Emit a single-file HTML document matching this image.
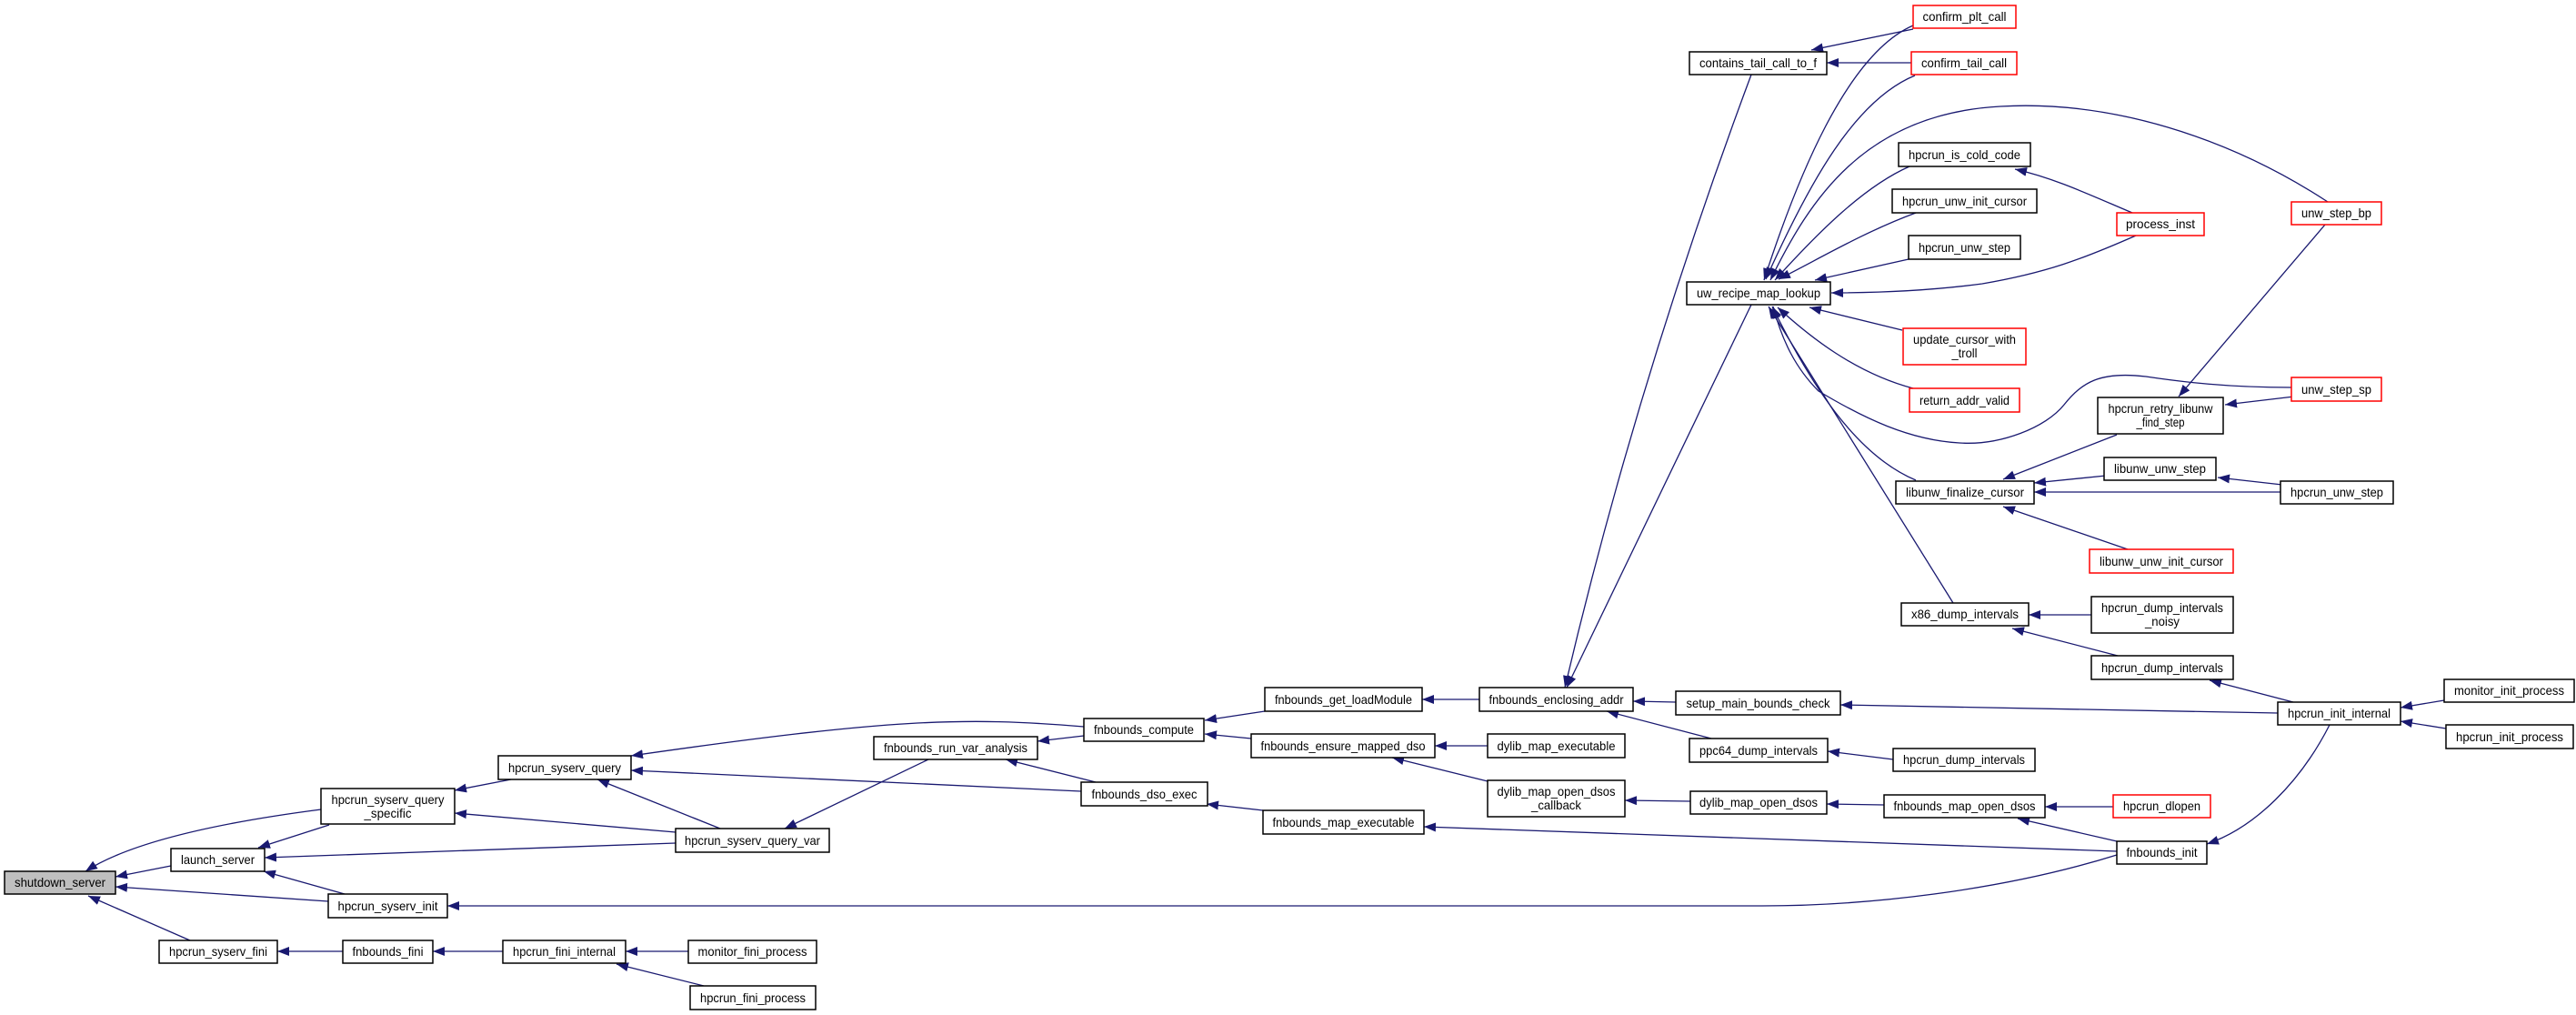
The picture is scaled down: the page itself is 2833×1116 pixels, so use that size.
<!DOCTYPE html>
<html><head><meta charset="utf-8"><style>
html,body{margin:0;padding:0;background:#fff;}
svg{display:block;}
text{font-family:"Liberation Sans",sans-serif;font-size:14px;fill:#000;text-anchor:middle;}
.e{fill:none;stroke:#191970;stroke-width:1.3;marker-end:url(#a);}
.n{fill:#fff;stroke:#000;stroke-width:1.5;}
.r{fill:#fff;stroke:#ff0000;stroke-width:1.5;}
</style></head><body>
<svg width="2833" height="1116" viewBox="0 0 2833 1116" xmlns="http://www.w3.org/2000/svg">
<defs><marker id="a" markerUnits="userSpaceOnUse" markerWidth="14" markerHeight="11" refX="13" refY="5" orient="auto"><path d="M0,0 L13,5 L0,10 z" fill="#191970"/></marker></defs>

<!-- edges -->
<path class="e" d="M353,890 Q160,915 94,958"/>
<path class="e" d="M188,952 L127,964"/>
<path class="e" d="M361,991 L127,975"/>
<path class="e" d="M209,1034 L97,985"/>
<path class="e" d="M362,907 L284,932"/>
<path class="e" d="M743,927 L291,943"/>
<path class="e" d="M379,983 L290,958"/>
<path class="e" d="M562,857 L500,869"/>
<path class="e" d="M743,915 L500,894"/>
<path class="e" d="M792,911 L657,857"/>
<path class="e" d="M1192,799 C1060,788 980,790 694,831"/>
<path class="e" d="M1189,870 L694,847"/>
<path class="e" d="M1021,835 L863,911"/>
<path class="e" d="M1192,809 L1141,815"/>
<path class="e" d="M1205,860 L1106,835"/>
<path class="e" d="M2328,940 C2200,980 2050,996 1938,996 L492,996"/>
<path class="e" d="M1391,782 L1325,792"/>
<path class="e" d="M1376,812 L1325,807"/>
<path class="e" d="M1389,891 L1327,884"/>
<path class="e" d="M1627,769 L1564,769"/>
<path class="e" d="M1843,772 L1796,771"/>
<path class="e" d="M1882,812 L1767,782"/>
<path class="e" d="M1926,82 Q1800,420 1721,756"/>
<path class="e" d="M1926,335 L1723,756"/>
<path class="e" d="M1636,820 L1578,820"/>
<path class="e" d="M1636,859 L1531,833"/>
<path class="e" d="M1859,881 L1787,880"/>
<path class="e" d="M2072,885 L2009,884"/>
<path class="e" d="M2328,936 L1566,909"/>
<path class="e" d="M2328,925 L2219,900"/>
<path class="e" d="M2324,887 L2249,887"/>
<path class="e" d="M2562,797 C2530,860 2480,910 2427,928"/>
<path class="e" d="M2505,784 L2024,775"/>
<path class="e" d="M2522,772 L2430,748"/>
<path class="e" d="M2688,770 L2640,778"/>
<path class="e" d="M2690,801 L2640,793"/>
<path class="e" d="M2300,676 L2231,676"/>
<path class="e" d="M2329,721 L2213,691"/>
<path class="e" d="M2082,835 L2010,826"/>
<path class="e" d="M2328,478 L2203,527"/>
<path class="e" d="M2316,523 L2237,531"/>
<path class="e" d="M2508,541 L2237,541"/>
<path class="e" d="M2340,604 L2203,557"/>
<path class="e" d="M2510,533 L2439,525"/>
<path class="e" d="M2523,436 L2447,445"/>
<path class="e" d="M2557,247 L2396,436"/>
<path class="e" d="M2520,426 C2450,426 2400,420 2360,414 C2310,408 2290,420 2270,445 C2250,470 2200,490 2155,487 C2100,484 2050,460 2000,430 C1975,405 1960,375 1950,337"/>
<path class="e" d="M2148,663 L1945,337"/>
<path class="e" d="M2107,528 C2040,500 1990,420 1949,337"/>
<path class="e" d="M2104,427 C2040,410 1990,370 1955,338"/>
<path class="e" d="M2092,363 L1990,338"/>
<path class="e" d="M2349,259 C2290,285 2250,300 2180,312 C2120,320 2060,322 2014,322"/>
<path class="e" d="M2099,285 L1996,308"/>
<path class="e" d="M2107,234 C2050,255 2000,285 1956,307"/>
<path class="e" d="M2100,183 C2050,205 2000,255 1952,308"/>
<path class="e" d="M2560,222 C2450,150 2320,110 2200,117 C2050,125 1990,220 1947,308"/>
<path class="e" d="M2106,83 C2040,110 1990,200 1942,307"/>
<path class="e" d="M2104,28 C2030,60 1975,200 1940,308"/>
<path class="e" d="M2104,32 L1992,55"/>
<path class="e" d="M2102,69 L2009,69"/>
<path class="e" d="M2345,234 C2300,215 2260,196 2216,186"/>
<path class="e" d="M377,1046 L305,1046"/>
<path class="e" d="M553,1046 L476,1046"/>
<path class="e" d="M757,1046 L688,1046"/>
<path class="e" d="M774,1084 L678,1060"/>

<!-- nodes -->
<rect x="5" y="958" width="122" height="25" fill="#bfbfbf" stroke="#000" stroke-width="1.5"/><text x="66" y="975" textLength="100" lengthAdjust="spacingAndGlyphs">shutdown_server</text>
<rect class="n" x="188" y="933" width="103" height="25"/><text x="239.5" y="950" textLength="81" lengthAdjust="spacingAndGlyphs">launch_server</text>
<rect class="n" x="353" y="867" width="147" height="39"/><text x="426.5" y="884" textLength="124" lengthAdjust="spacingAndGlyphs">hpcrun_syserv_query</text><text x="426.5" y="899" textLength="52" lengthAdjust="spacingAndGlyphs">_specific</text>
<rect class="n" x="361" y="983" width="131" height="26"/><text x="426.5" y="1001" textLength="110" lengthAdjust="spacingAndGlyphs">hpcrun_syserv_init</text>
<rect class="n" x="175" y="1034" width="130" height="25"/><text x="240" y="1051" textLength="108" lengthAdjust="spacingAndGlyphs">hpcrun_syserv_fini</text>
<rect class="n" x="548" y="831" width="146" height="26"/><text x="621" y="849" textLength="124" lengthAdjust="spacingAndGlyphs">hpcrun_syserv_query</text>
<rect class="n" x="743" y="911" width="169" height="26"/><text x="827.5" y="929" textLength="149" lengthAdjust="spacingAndGlyphs">hpcrun_syserv_query_var</text>
<rect class="n" x="377" y="1034" width="99" height="25"/><text x="426.5" y="1051" textLength="78" lengthAdjust="spacingAndGlyphs">fnbounds_fini</text>
<rect class="n" x="553" y="1034" width="135" height="25"/><text x="620.5" y="1051" textLength="113" lengthAdjust="spacingAndGlyphs">hpcrun_fini_internal</text>
<rect class="n" x="757" y="1034" width="141" height="25"/><text x="827.5" y="1051" textLength="120" lengthAdjust="spacingAndGlyphs">monitor_fini_process</text>
<rect class="n" x="759" y="1084" width="138" height="26"/><text x="828" y="1102" textLength="116" lengthAdjust="spacingAndGlyphs">hpcrun_fini_process</text>
<rect class="n" x="961" y="810" width="180" height="25"/><text x="1051" y="827" textLength="158" lengthAdjust="spacingAndGlyphs">fnbounds_run_var_analysis</text>
<rect class="n" x="1192" y="790" width="132" height="25"/><text x="1258" y="807" textLength="110" lengthAdjust="spacingAndGlyphs">fnbounds_compute</text>
<rect class="n" x="1189" y="860" width="139" height="26"/><text x="1258.5" y="878" textLength="116" lengthAdjust="spacingAndGlyphs">fnbounds_dso_exec</text>
<rect class="n" x="1391" y="756" width="173" height="26"/><text x="1477.5" y="774" textLength="151" lengthAdjust="spacingAndGlyphs">fnbounds_get_loadModule</text>
<rect class="n" x="1376" y="807" width="202" height="26"/><text x="1477" y="825" textLength="181" lengthAdjust="spacingAndGlyphs">fnbounds_ensure_mapped_dso</text>
<rect class="n" x="1389" y="891" width="177" height="26"/><text x="1477.5" y="909" textLength="156" lengthAdjust="spacingAndGlyphs">fnbounds_map_executable</text>
<rect class="n" x="1627" y="756" width="169" height="26"/><text x="1711.5" y="774" textLength="148" lengthAdjust="spacingAndGlyphs">fnbounds_enclosing_addr</text>
<rect class="n" x="1636" y="807" width="151" height="26"/><text x="1711.5" y="825" textLength="130" lengthAdjust="spacingAndGlyphs">dylib_map_executable</text>
<rect class="n" x="1636" y="858" width="151" height="40"/><text x="1711.5" y="875" textLength="130" lengthAdjust="spacingAndGlyphs">dylib_map_open_dsos</text><text x="1711.5" y="890" textLength="55" lengthAdjust="spacingAndGlyphs">_callback</text>
<rect class="n" x="1843" y="760" width="181" height="26"/><text x="1933.5" y="778" textLength="158" lengthAdjust="spacingAndGlyphs">setup_main_bounds_check</text>
<rect class="n" x="1858" y="812" width="152" height="26"/><text x="1934" y="830" textLength="130" lengthAdjust="spacingAndGlyphs">ppc64_dump_intervals</text>
<rect class="n" x="1859" y="870" width="150" height="25"/><text x="1934" y="887" textLength="130" lengthAdjust="spacingAndGlyphs">dylib_map_open_dsos</text>
<rect class="n" x="2072" y="874" width="177" height="25"/><text x="2160.5" y="891" textLength="156" lengthAdjust="spacingAndGlyphs">fnbounds_map_open_dsos</text>
<rect class="n" x="2082" y="823" width="156" height="25"/><text x="2160" y="840" textLength="134" lengthAdjust="spacingAndGlyphs">hpcrun_dump_intervals</text>
<rect class="n" x="1858" y="57" width="151" height="25"/><text x="1933.5" y="74" textLength="129" lengthAdjust="spacingAndGlyphs">contains_tail_call_to_f</text>
<rect class="n" x="1855" y="310" width="158" height="25"/><text x="1934" y="327" textLength="136" lengthAdjust="spacingAndGlyphs">uw_recipe_map_lookup</text>
<rect class="n" x="2091" y="663" width="140" height="25"/><text x="2161" y="680" textLength="118" lengthAdjust="spacingAndGlyphs">x86_dump_intervals</text>
<rect class="n" x="2085" y="529" width="152" height="25"/><text x="2161" y="546" textLength="130" lengthAdjust="spacingAndGlyphs">libunw_finalize_cursor</text>
<rect class="r" x="2104" y="6" width="113" height="25"/><text x="2160.5" y="23" textLength="92" lengthAdjust="spacingAndGlyphs">confirm_plt_call</text>
<rect class="r" x="2102" y="57" width="116" height="25"/><text x="2160" y="74" textLength="94" lengthAdjust="spacingAndGlyphs">confirm_tail_call</text>
<rect class="n" x="2088" y="157" width="145" height="26"/><text x="2160.5" y="175" textLength="123" lengthAdjust="spacingAndGlyphs">hpcrun_is_cold_code</text>
<rect class="n" x="2081" y="208" width="159" height="26"/><text x="2160.5" y="226" textLength="137" lengthAdjust="spacingAndGlyphs">hpcrun_unw_init_cursor</text>
<rect class="n" x="2099" y="259" width="123" height="26"/><text x="2160.5" y="277" textLength="101" lengthAdjust="spacingAndGlyphs">hpcrun_unw_step</text>
<rect class="r" x="2093" y="361" width="135" height="40"/><text x="2160.5" y="378" textLength="113" lengthAdjust="spacingAndGlyphs">update_cursor_with</text><text x="2160.5" y="393" textLength="28" lengthAdjust="spacingAndGlyphs">_troll</text>
<rect class="r" x="2100" y="427" width="121" height="26"/><text x="2160.5" y="445" textLength="99" lengthAdjust="spacingAndGlyphs">return_addr_valid</text>
<rect class="r" x="2328" y="234" width="96" height="25"/><text x="2376" y="251" textLength="76" lengthAdjust="spacingAndGlyphs">process_inst</text>
<rect class="n" x="2307" y="437" width="138" height="40"/><text x="2376" y="454" textLength="115" lengthAdjust="spacingAndGlyphs">hpcrun_retry_libunw</text><text x="2376" y="469" textLength="53" lengthAdjust="spacingAndGlyphs">_find_step</text>
<rect class="n" x="2314" y="503" width="123" height="25"/><text x="2375.5" y="520" textLength="101" lengthAdjust="spacingAndGlyphs">libunw_unw_step</text>
<rect class="r" x="2298" y="604" width="158" height="26"/><text x="2377" y="622" textLength="136" lengthAdjust="spacingAndGlyphs">libunw_unw_init_cursor</text>
<rect class="n" x="2300" y="656" width="156" height="40"/><text x="2378" y="673" textLength="134" lengthAdjust="spacingAndGlyphs">hpcrun_dump_intervals</text><text x="2378" y="688" textLength="38" lengthAdjust="spacingAndGlyphs">_noisy</text>
<rect class="n" x="2300" y="721" width="156" height="26"/><text x="2378" y="739" textLength="134" lengthAdjust="spacingAndGlyphs">hpcrun_dump_intervals</text>
<rect class="r" x="2324" y="874" width="107" height="25"/><text x="2377.5" y="891" textLength="85" lengthAdjust="spacingAndGlyphs">hpcrun_dlopen</text>
<rect class="n" x="2328" y="925" width="99" height="25"/><text x="2377.5" y="942" textLength="78" lengthAdjust="spacingAndGlyphs">fnbounds_init</text>
<rect class="r" x="2520" y="222" width="99" height="25"/><text x="2569.5" y="239" textLength="77" lengthAdjust="spacingAndGlyphs">unw_step_bp</text>
<rect class="r" x="2520" y="415" width="99" height="26"/><text x="2569.5" y="433" textLength="77" lengthAdjust="spacingAndGlyphs">unw_step_sp</text>
<rect class="n" x="2508" y="529" width="124" height="25"/><text x="2570" y="546" textLength="102" lengthAdjust="spacingAndGlyphs">hpcrun_unw_step</text>
<rect class="n" x="2505" y="772" width="135" height="25"/><text x="2572.5" y="789" textLength="113" lengthAdjust="spacingAndGlyphs">hpcrun_init_internal</text>
<rect class="n" x="2688" y="747" width="143" height="25"/><text x="2759.5" y="764" textLength="121" lengthAdjust="spacingAndGlyphs">monitor_init_process</text>
<rect class="n" x="2690" y="797" width="140" height="26"/><text x="2760" y="815" textLength="118" lengthAdjust="spacingAndGlyphs">hpcrun_init_process</text>
</svg>
</body></html>
